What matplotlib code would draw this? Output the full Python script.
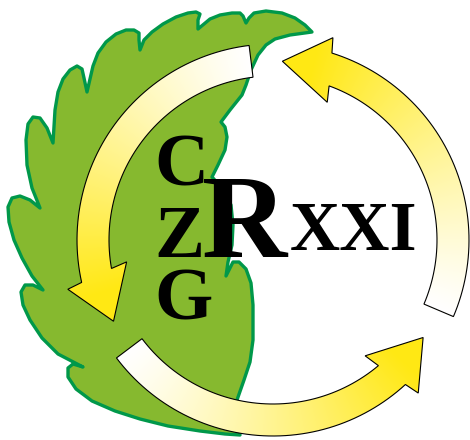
import numpy as np
import matplotlib.pyplot as plt
from matplotlib.patches import Polygon

# leaf outline, pixel coords (x, y down)
leaf_x = [312, 305, 295, 282, 266, 254, 249, 246,
          243, 240, 232, 220, 210, 198,
          198, 200, 196, 188, 176, 163, 152, 144, 140,
          139, 139, 134, 126, 116, 106, 98, 93, 87,
          84, 82, 77, 70, 63, 58, 55, 53,
          47, 40, 33, 28, 26, 27, 32, 40,
          30, 20, 12, 8, 9, 14, 22, 32, 43,
          33, 25, 21, 23, 30, 42, 58, 83,
          73, 68, 68, 76, 92, 115, 140, 168, 200, 225, 240,
          238, 237,
          244, 250, 253, 253, 251, 246, 239, 233, 226,
          228, 232, 233, 231, 223, 212,
          218, 225, 227, 225, 221,
          230, 238, 242, 246, 251, 258, 266, 275, 290]
leaf_y = [32, 25, 18, 13, 11, 13, 18, 23,
          16, 13, 13, 15, 19, 29,
          20, 14, 12, 13, 17, 24, 32, 40, 50,
          40, 33, 30, 30, 34, 42, 53, 66, 92,
          78, 69, 66, 70, 79, 92, 110, 143,
          128, 118, 117, 124, 140, 165, 188, 208,
          200, 196, 198, 207, 222, 240, 258, 276, 290,
          285, 285, 292, 305, 320, 338, 354, 367,
          364, 368, 377, 389, 401, 411, 419, 426, 431, 434, 435,
          420, 400,
          380, 362, 340, 305, 283, 269, 262, 262, 276,
          262, 245, 225, 205, 189, 177,
          165, 150, 137, 127, 122,
          110, 100, 95, 85, 70, 55, 45, 39, 35]

# ring of three arrows
ring_center = (273, 240)
tail_angles = [97, 217, 337]          # degrees, counter-clockwise
r_inner, r_outer = 164, 196
barb_inner, barb_outer, r_tip = 148, 211, 179

letters = ['C', 'Z', 'G']
letter_baselines = [186, 257, 319]

white = np.array([1.0, 1.0, 1.0])
yellow = np.array([1.0, 0.91, 0.08])


def arrow_points(a0):
    cx, cy = ring_center
    pts = []
    # outer edge of the shaft
    for a in np.linspace(a0, a0 + 95.5, 60):
        pts.append((r_outer, a))
    pts.append((barb_outer, a0 + 96.5))
    pts.append((r_tip, a0 + 110))
    pts.append((barb_inner, a0 + 91.5))
    for a in np.linspace(a0 + 93, a0, 60):
        pts.append((r_inner, a))
    return [(cx + r * np.cos(np.radians(a)), cy - r * np.sin(np.radians(a)))
            for r, a in pts]


fig = plt.figure(figsize=(4.7, 4.4), dpi=100)
ax = fig.add_axes([0, 0, 1, 1])
ax.set_xlim(0, 470)
ax.set_ylim(440, 0)
ax.axis('off')

leaf = Polygon(list(zip(leaf_x, leaf_y)), closed=True, facecolor='#86b92f',
               edgecolor='#00984a', lw=2.4, joinstyle='round', zorder=1)
ax.add_patch(leaf)

# gradient image, white at the tail -> yellow at the head
X, Y = np.meshgrid(np.arange(470) + 0.5, np.arange(440) + 0.5)
ang = np.degrees(np.arctan2(ring_center[1] - Y, X - ring_center[0]))

for a0 in tail_angles:
    t = np.clip(((ang - a0) % 360) / 100.0, 0, 1) ** 1.2
    img = white[None, None, :] * (1 - t[..., None]) + yellow[None, None, :] * t[..., None]
    poly = Polygon(arrow_points(a0), closed=True, facecolor='none',
                   edgecolor='black', lw=0.8, zorder=3)
    ax.add_patch(poly)
    im = ax.imshow(img, extent=(0, 470, 440, 0), origin='upper',
                   interpolation='bilinear', zorder=2)
    im.set_clip_path(poly)

ax.set_xlim(0, 470)
ax.set_ylim(440, 0)

for ch, yb in zip(letters, letter_baselines):
    ax.text(154, yb, ch, fontsize=54, fontfamily='Liberation Serif',
            fontweight='bold', ha='left', va='baseline', zorder=4)
ax.text(202, 257, 'R', fontsize=85, fontfamily='Liberation Serif',
        fontweight='bold', ha='left', va='baseline', zorder=4)
ax.text(290, 250, 'XXI', fontsize=50, fontfamily='Liberation Serif',
        fontweight='bold', ha='left', va='baseline', zorder=4)

fig.savefig('out.png', dpi=100)
